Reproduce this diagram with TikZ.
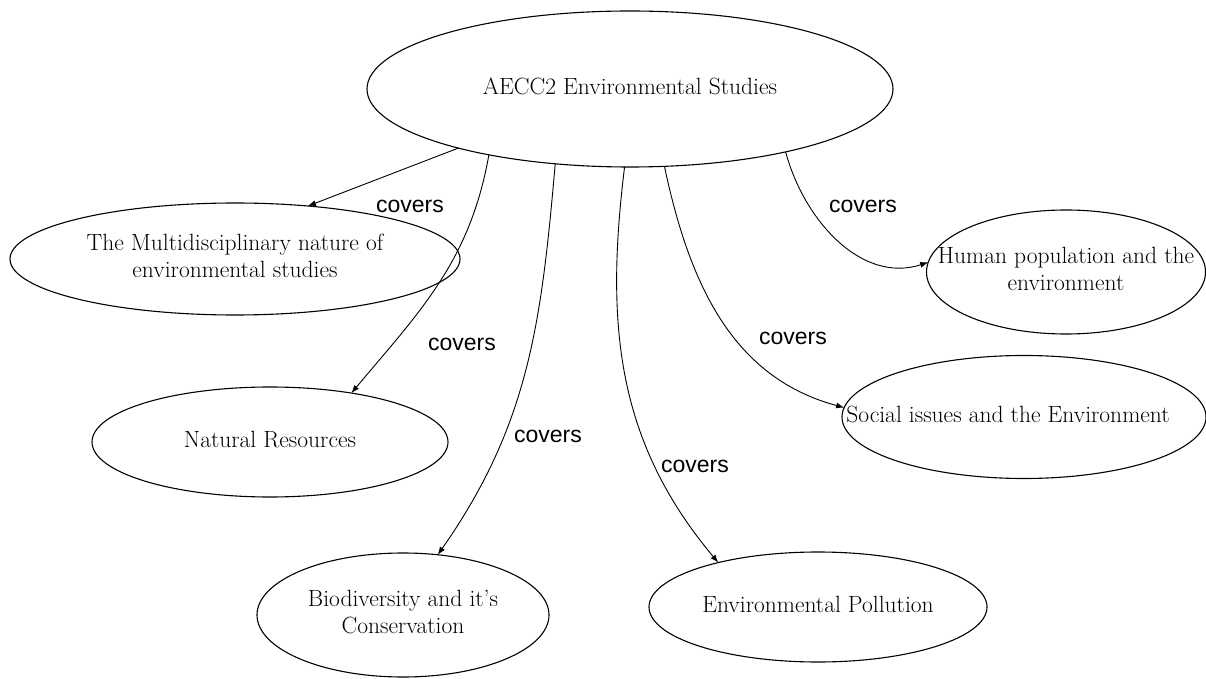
\documentclass[tikz,border=0pt]{standalone}
\usepackage{fontspec}
\newfontfamily\labelfont{Liberation Sans}
\usetikzlibrary{shapes.geometric,arrows.meta}
\newcommand{\ztxt}[1]{\makebox[0pt]{\begin{tabular}{@{}c@{}}#1\end{tabular}}}
\newcommand{\ztxtleft}[2]{\makebox[0pt]{\begin{tabular}{@{}c@{}}#2\end{tabular}\hspace*{#1}}}
\begin{document}
\begin{tikzpicture}[x=1pt,y=1pt,
  oval/.style={draw=black, line width=1.1pt, ellipse, inner sep=0pt, outer sep=0pt,
               font=\fontsize{23.5}{27}\selectfont},
  cov/.style={font=\labelfont\fontsize{23}{27}\selectfont, inner sep=0pt},
  link/.style={draw=black, line width=0.9pt, -{Latex[length=8pt,width=6pt]}}]
\useasboundingbox (0,0) rectangle (1206,678);
\fill[white] (0,0) rectangle (1206,678);
% nodes (pixel y flipped: y = 678 - ypx)
\node[oval, minimum width=526pt, minimum height=156pt] (top)  at (630,589) {\ztxt{AECC2 Environmental Studies}};
\node[oval, minimum width=450pt, minimum height=112pt] (multi) at (235,419) {\ztxt{The Multidisciplinary nature of\\environmental studies}};
\node[oval, minimum width=356pt, minimum height=110pt] (nat)  at (270,236) {\ztxt{Natural Resources}};
\node[oval, minimum width=292pt, minimum height=124pt] (bio)  at (403,63)  {\ztxt{Biodiversity and it's\\Conservation}};
\node[oval, minimum width=338pt, minimum height=110pt] (poll) at (818,71)  {\ztxt{Environmental Pollution}};
\node[oval, minimum width=364pt, minimum height=123pt] (soc)  at (1024,261) {\ztxtleft{32pt}{Social issues and the Environment}};
\node[oval, minimum width=279pt, minimum height=124pt] (hum)  at (1066,406) {\ztxt{Human population and the\\environment}};
% connectors
\draw[link] (top.199) -- (multi.36);
\draw[link] (top.205) to[out=-100,in=50] (nat.31);
\draw[link] (top.225) to[out=-95,in=55] (bio.60);
\draw[link] (top.266) to[out=-97,in=130] (poll.156);
\draw[link] (top.294) to[out=-78,in=165] (soc.177);
\draw[link] (top.338) to[out=-75,in=198] (hum.176);
% labels
\node[cov] (l1) at (410,472) {covers};
\node[cov] (l2) at (462,334) {covers};
\node[cov] (l3) at (548,242) {covers};
\node[cov] (l4) at (695,212) {covers};
\node[cov] (l5) at (793,340) {covers};
\node[cov] (l6) at (863,472) {covers};
\end{tikzpicture}
\end{document}
